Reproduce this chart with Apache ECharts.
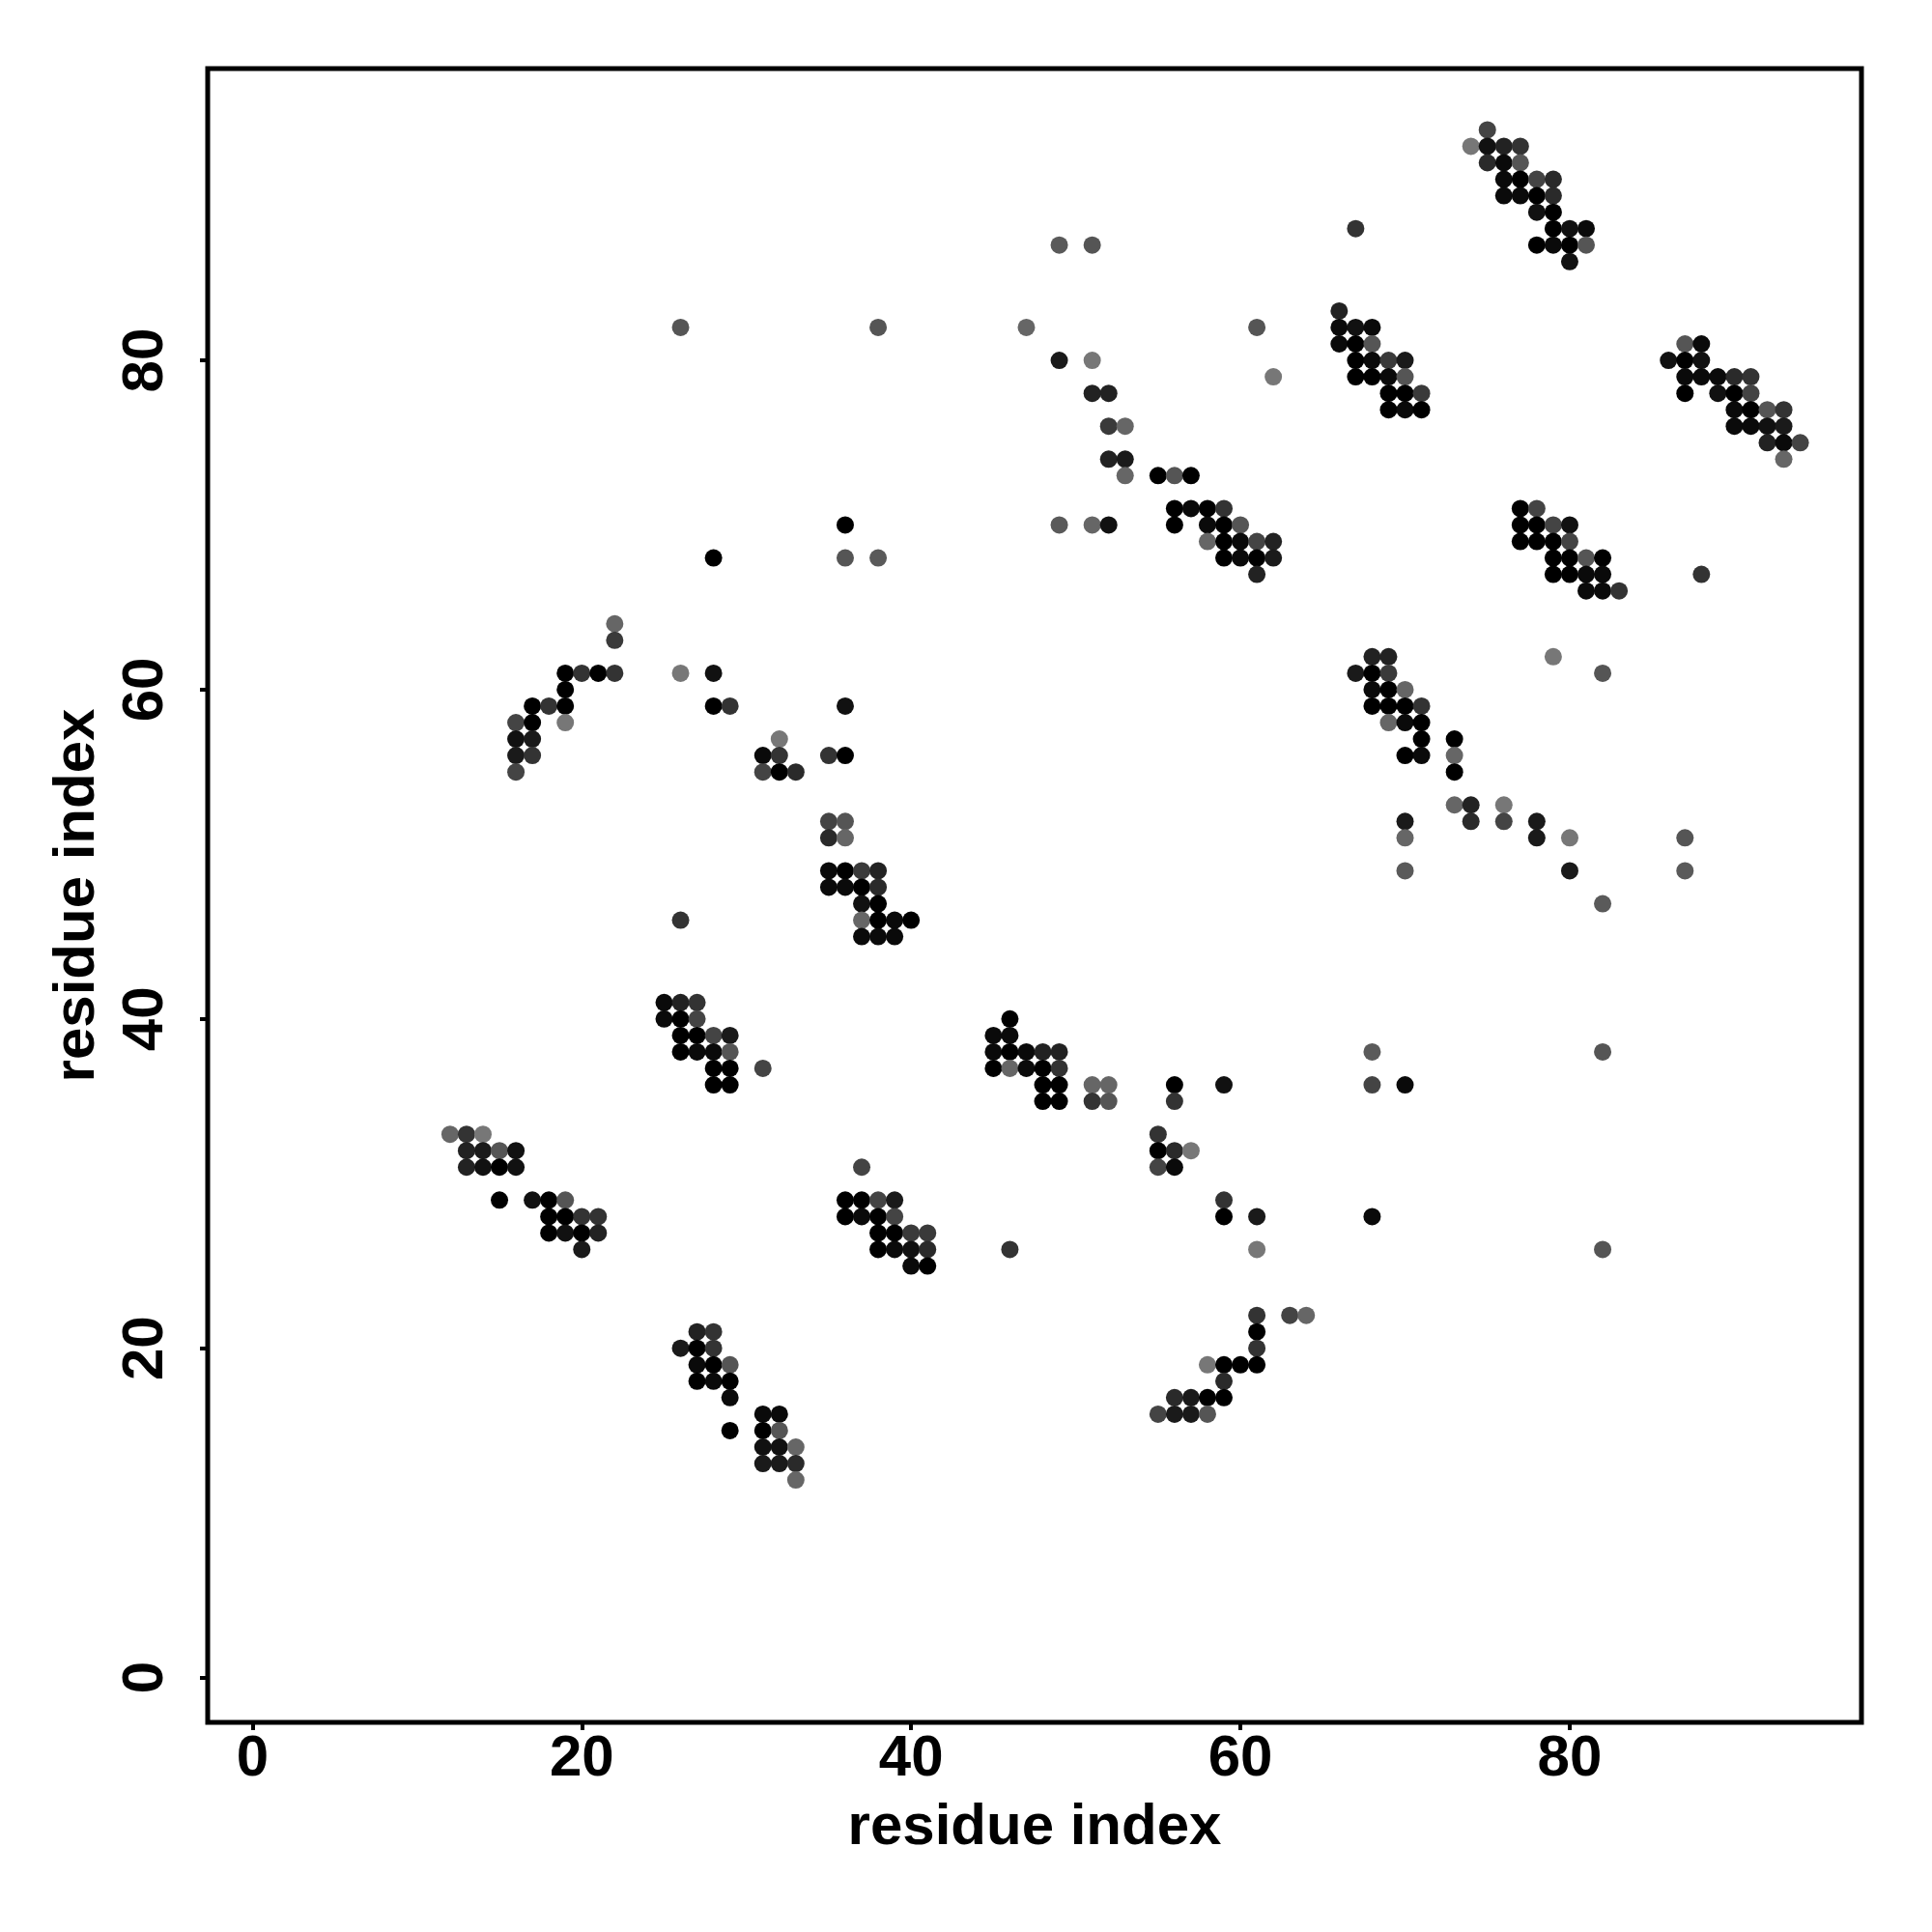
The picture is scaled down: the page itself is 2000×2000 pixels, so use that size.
<!DOCTYPE html>
<html><head><meta charset="utf-8">
<script src="https://cdn.jsdelivr.net/npm/echarts@6/dist/echarts.min.js"></script>
<style>html,body{margin:0;padding:0;background:#fff}#chart{width:2000px;height:2000px}</style>
</head><body><div id="chart"></div>
<script>
// axis setup
const residueRange = [1, 94];
const tickValues = [0, 20, 40, 60, 80];
const axisTitle = 'residue index';

// contacts: [residue i, residue j, gray level (0 = black, 255 = white)]
const clusterA = [[12,33,102],[13,33,51],[14,33,119],[13,32,34],[14,32,26],[15,32,85],[16,32,17],
  [13,31,34],[14,31,17],[15,31,0],[16,31,17],[15,29,0],[17,29,17],[18,29,0],[19,29,85],
  [18,28,0],[19,28,0],[20,28,51],[21,28,51],[18,27,0],[19,27,17],[20,27,0],[21,27,34],[20,26,26]];
const clusterB = [[27,21,34],[28,21,51],[26,20,26],[27,20,0],[28,20,51],[27,19,10],[28,19,0],[29,19,85],
  [27,18,0],[28,18,10],[29,18,0],[29,17,10],[31,16,10],[32,16,10],[29,15,0],[31,15,0],[32,15,85],
  [31,14,17],[32,14,17],[33,14,102],[31,13,26],[32,13,26],[33,13,42],[33,12,102]];
const clusterC = [[22,64,102],[22,63,58],[19,61,0],[20,61,51],[21,61,0],[22,61,51],[19,60,0],
  [17,59,0],[18,59,51],[19,59,0],[16,58,68],[17,58,0],[19,58,119],[16,57,17],[17,57,26],
  [16,56,26],[17,56,51],[16,55,68]];
const clusterD = [[26,82,85],[28,68,0],[26,61,119],[28,61,17],[28,59,0],[29,59,51],
  [32,57,119],[31,56,10],[32,56,51],[31,55,68],[32,55,0],[33,55,42]];
const clusterE = [[26,46,51],[25,41,10],[26,41,34],[27,41,51],[25,40,10],[26,40,0],[27,40,68],
  [26,39,0],[27,39,0],[28,39,68],[29,39,26],[26,38,0],[27,38,10],[28,38,10],[29,38,85],
  [28,37,0],[29,37,0],[31,37,68],[28,36,0],[29,36,0]];
const clusterF = [[37,31,68],[36,29,0],[37,29,0],[38,29,68],[39,29,26],[36,28,0],[37,28,10],[38,28,0],[39,28,68],
  [38,27,0],[39,27,0],[40,27,58],[41,27,58],[38,26,0],[39,26,10],[40,26,17],[41,26,42],[46,26,51],
  [40,25,10],[41,25,0]];
const clusterG = [[36,70,0],[36,68,85],[38,68,90],[38,82,85],[36,59,17],[35,56,51],[36,56,0],
  [35,52,68],[36,52,85],[35,51,42],[36,51,102],[35,49,10],[36,49,0],[37,49,58],[38,49,34],
  [35,48,10],[36,48,10],[37,48,0],[38,48,42],[37,47,17],[38,47,0],
  [37,46,102],[38,46,0],[39,46,10],[40,46,0],[37,45,10],[38,45,10],[39,45,10]];
const clusterH = [[46,40,0],[45,39,10],[46,39,10],[45,38,10],[46,38,0],[47,38,10],[48,38,34],[49,38,34],
  [45,37,0],[46,37,102],[47,37,10],[48,37,0],[49,37,51],
  [48,36,0],[49,36,0],[51,36,102],[52,36,102],[56,36,0],
  [48,35,0],[49,35,0],[51,35,51],[52,35,85],[56,35,51],
  [55,33,51],[55,32,0],[56,32,42],[57,32,119],[55,31,68],[56,31,10]];
const clusterI = [[59,36,17],[59,29,51],[59,28,0],[61,28,26],[61,26,119],
  [61,22,51],[63,22,68],[64,22,102],[61,21,0],[61,20,51],
  [58,19,119],[59,19,0],[60,19,0],[61,19,0],[59,18,42],
  [56,17,42],[57,17,26],[58,17,0],[59,17,0],[55,16,68],[56,16,26],[57,16,26],[58,16,85]];
const clusterJ = [[68,38,90],[82,38,85],[68,36,68],[70,36,10],[68,28,10],[82,26,85]];
const clusterK = [[49,87,90],[51,87,85],[47,82,102],[61,82,85],[49,80,26],[51,80,119],[62,79,119],
  [51,78,34],[52,78,34],[52,76,58],[53,76,102],[52,74,34],[53,74,26],
  [53,73,102],[55,73,0],[56,73,85],[57,73,0],
  [56,71,0],[57,71,10],[58,71,0],[59,71,51],
  [49,70,90],[51,70,102],[52,70,17],[56,70,0],[58,70,10],[59,70,0],[60,70,85],
  [58,69,102],[59,69,0],[60,69,10],[61,69,68],[62,69,34],
  [59,68,0],[60,68,10],[61,68,0],[62,68,26],[61,67,34]];
const clusterL = [[66,83,34],[66,82,10],[67,82,17],[68,82,10],[66,81,10],[67,81,0],[68,81,85],
  [67,80,0],[68,80,10],[69,80,58],[70,80,26],[67,79,0],[68,79,0],[69,79,10],[70,79,85],
  [69,78,0],[70,78,0],[71,78,58],[69,77,0],[70,77,10],[71,77,0],[67,88,51]];
const clusterM = [[75,94,68],[74,93,119],[75,93,17],[76,93,34],[77,93,51],
  [75,92,42],[76,92,10],[77,92,85],[76,91,10],[77,91,0],[78,91,68],[79,91,42],
  [76,90,10],[77,90,10],[78,90,0],[79,90,42],[78,89,17],[79,89,0],
  [79,88,0],[80,88,17],[81,88,10],[78,87,0],[79,87,10],[80,87,0],[81,87,85],[80,86,17]];
const clusterN = [[77,71,0],[78,71,68],[77,70,0],[78,70,0],[79,70,68],[80,70,17],
  [77,69,0],[78,69,0],[79,69,0],[80,69,68],[79,68,0],[80,68,0],[81,68,85],[82,68,0],
  [79,67,0],[80,67,0],[81,67,10],[82,67,10],[88,67,51],[81,66,10],[82,66,10],[83,66,51]];
const clusterO = [[87,81,85],[88,81,10],[86,80,17],[87,80,0],[88,80,17],
  [87,79,10],[88,79,10],[89,79,10],[90,79,42],[91,79,51],
  [87,78,0],[89,78,17],[90,78,0],[91,78,68],
  [90,77,10],[91,77,0],[92,77,85],[93,77,51],
  [90,76,10],[91,76,10],[92,76,17],[93,76,26],
  [92,75,34],[93,75,10],[94,75,68],[93,74,102]];
const clusterP = [[68,62,34],[69,62,34],[79,62,119],[67,61,26],[68,61,0],[69,61,58],[82,61,85],
  [68,60,10],[69,60,0],[70,60,102],[68,59,0],[69,59,0],[70,59,0],[71,59,51],
  [69,58,102],[70,58,10],[71,58,0],[71,57,0],[73,57,0],[70,56,0],[71,56,10],[73,56,102],[73,55,0],
  [73,53,102],[74,53,34],[76,53,119],[70,52,26],[74,52,42],[76,52,68],[78,52,26],
  [70,51,102],[78,51,26],[80,51,119],[87,51,85],[70,49,90],[80,49,26],[87,49,90],[82,47,90]];

const contacts = [].concat(clusterA, clusterB, clusterC, clusterD, clusterE, clusterF, clusterG, clusterH,
  clusterI, clusterJ, clusterK, clusterL, clusterM, clusterN, clusterO, clusterP);

const span = residueRange[1] - residueRange[0];
const axisMin = residueRange[0] - 0.04 * span;
const axisMax = residueRange[1] + 0.04 * span;

const FONT = "'Liberation Sans', Arial, Helvetica, sans-serif";
const labelStyle = { fontFamily: FONT, fontWeight: 'bold', fontSize: 60, color: '#000' };

function makeAxis(isY) {
  return {
    type: 'value', min: axisMin, max: axisMax,
    name: axisTitle, nameLocation: 'middle', nameGap: isY ? 105 : 79,
    nameRotate: isY ? 90 : 0,
    nameTextStyle: { fontFamily: FONT, fontWeight: 'bold', fontSize: 60, color: '#000' },
    axisLine: { show: false, onZero: false },
    splitLine: { show: false },
    axisTick: { show: true, inside: false, length: 8, customValues: tickValues,
      lineStyle: { color: '#000', width: 4 } },
    axisLabel: Object.assign({ show: true, customValues: tickValues, margin: isY ? 34 : 8,
      rotate: isY ? 90 : 0, formatter: v => String(Math.round(v)) }, labelStyle)
  };
}

const chart = echarts.init(document.getElementById('chart'), null, { renderer: 'canvas' });
chart.setOption({
  animation: false,
  backgroundColor: '#fff',
  grid: { left: 215, top: 71, width: 1712, height: 1712, show: true,
    borderColor: '#000', borderWidth: 5, backgroundColor: 'transparent' },
  xAxis: makeAxis(false),
  yAxis: makeAxis(true),
  series: [{
    type: 'scatter',
    symbol: 'circle',
    symbolSize: 18,
    data: contacts,
    itemStyle: {
      color: p => { const g = p.data[2]; return 'rgb(' + g + ',' + g + ',' + g + ')'; },
      opacity: 1,
      borderWidth: 0
    }
  }]
});
</script></body></html>
